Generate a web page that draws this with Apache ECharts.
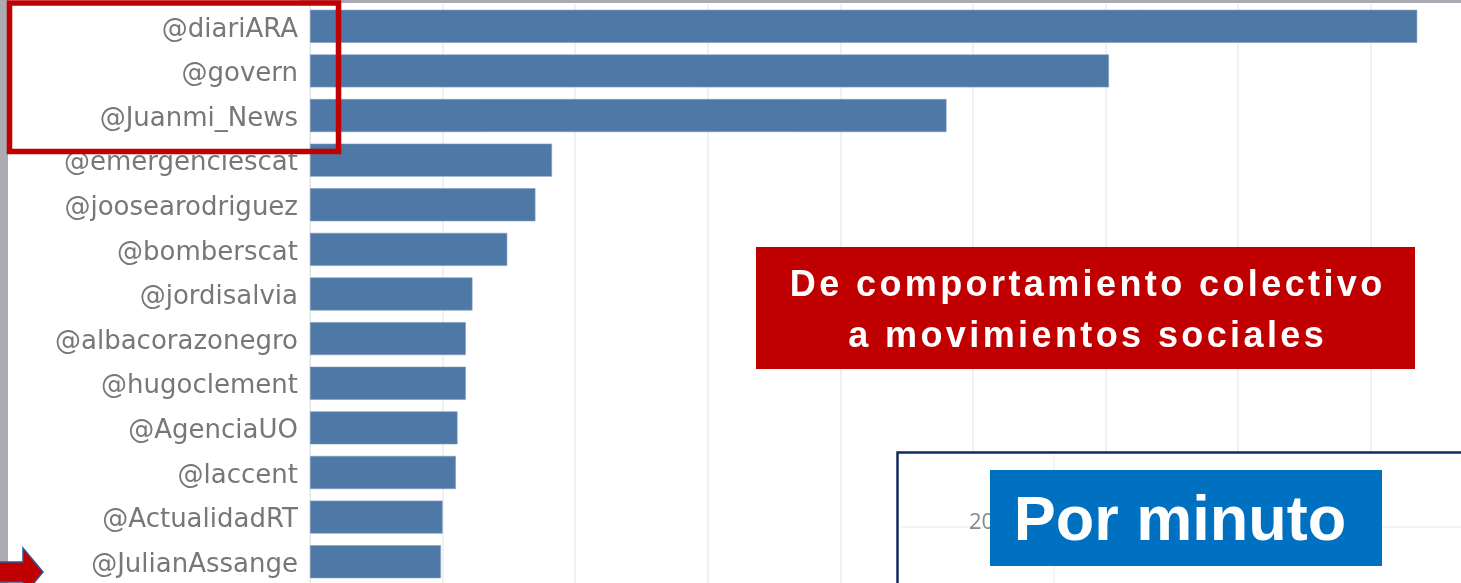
<!DOCTYPE html>
<html>
<head>
<meta charset="utf-8">
<script src="https://cdn.jsdelivr.net/npm/echarts@6/dist/echarts.min.js"></script>
<style>
html,body{margin:0;padding:0;background:#fff;}
#c{width:1461px;height:583px;}
</style>
</head>
<body>
<div id="c"></div>
<script>
var categories = ['@diariARA','@govern','@Juanmi_News','@emergenciescat','@joosearodriguez','@bomberscat','@jordisalvia','@albacorazonegro','@hugoclement','@AgenciaUO','@laccent','@ActualidadRT','@JulianAssange'];
var values = [33.4, 24.1, 19.2, 7.3, 6.8, 5.95, 4.9, 4.7, 4.7, 4.45, 4.4, 4.0, 3.95];
var bannerLines = ['De comportamiento colectivo', 'a movimientos sociales'];
var insetTick = '20';
var badgeText = 'Por minuto';

// letter-spaced text helper (decorative overlay text)
var mctx = document.createElement('canvas').getContext('2d');
function spacedText(str, cx, cy, font, spacing, color, z) {
  mctx.font = font;
  var widths = [], total = 0;
  for (var i = 0; i < str.length; i++) {
    var w = mctx.measureText(str[i]).width;
    widths.push(w); total += w;
  }
  total += spacing * (str.length - 1);
  var x = cx - total / 2, out = [];
  for (var j = 0; j < str.length; j++) {
    if (str[j] !== ' ') {
      out.push({type: 'text', x: x, y: cy, z: z,
        style: {text: str[j], fill: color, font: font, align: 'left', verticalAlign: 'middle'}});
    }
    x += widths[j] + spacing;
  }
  return out;
}

var graphics = [
  {type: 'rect', shape: {x: 300, y: 0, width: 1161, height: 3}, style: {fill: '#acabb3'}, z: 100},
  {type: 'rect', shape: {x: 0, y: 0, width: 8, height: 583}, style: {fill: '#acabb3'}, z: 100},
  {type: 'rect', shape: {x: 9.5, y: 3, width: 329, height: 148.5}, style: {fill: 'none', stroke: '#c00000', lineWidth: 5.5}, z: 100},
  {type: 'rect', shape: {x: 756, y: 247, width: 659, height: 122}, style: {fill: '#c00000'}, z: 100},
  {type: 'rect', shape: {x: 897.5, y: 452.5, width: 600, height: 200}, style: {fill: '#ffffff', stroke: '#0f2a62', lineWidth: 2.5}, z: 100},
  {type: 'line', shape: {x1: 1054, y1: 455, x2: 1054, y2: 583}, style: {stroke: '#f0f0f0', lineWidth: 1.5}, z: 101},
  {type: 'line', shape: {x1: 900, y1: 527, x2: 1461, y2: 527}, style: {stroke: '#f0f0f0', lineWidth: 1.5}, z: 101},
  {type: 'text', x: 969, y: 523, style: {text: insetTick, fill: '#888888', font: '22px "Open Sans"', align: 'left', verticalAlign: 'middle'}, z: 101},
  {type: 'rect', shape: {x: 990, y: 470, width: 392, height: 96}, style: {fill: '#0070c0'}, z: 102},
  {type: 'text', x: 1180, y: 523, style: {text: badgeText, fill: '#ffffff', font: 'bold 63px "Liberation Sans"', align: 'center', verticalAlign: 'middle'}, z: 103},
  {type: 'polygon', shape: {points: [[-2, 562], [23, 562], [23, 548], [43, 572], [23, 596], [23, 582], [-2, 582]]}, style: {fill: '#c00000', stroke: '#2f5597', lineWidth: 1.5}, z: 104}
];
graphics = graphics.concat(spacedText(bannerLines[0], 1086, 286, 'bold 36px "Liberation Sans"', 3.4, '#ffffff', 101));
graphics = graphics.concat(spacedText(bannerLines[1], 1086, 337, 'bold 36px "Liberation Sans"', 3.4, '#ffffff', 101));

var chart = echarts.init(document.getElementById('c'), null, {renderer: 'canvas'});
chart.setOption({
  animation: false,
  backgroundColor: '#ffffff',
  grid: {left: 310, top: 4, width: 1193.4, height: 580, containLabel: false, outerBoundsMode: 'none'},
  xAxis: {
    type: 'value', min: 0, max: 36, interval: 4,
    axisLabel: {show: false}, axisTick: {show: false}, axisLine: {show: false},
    splitLine: {show: true, lineStyle: {color: '#ececec', width: 1.5}}
  },
  yAxis: {
    type: 'category', data: categories, inverse: true,
    axisTick: {show: false},
    axisLine: {show: true, lineStyle: {color: '#e4e4e4', width: 1}},
    axisLabel: {color: '#777777', fontSize: 26, fontFamily: 'DejaVu Sans', margin: 12, verticalAlign: 'top', lineHeight: 7}
  },
  series: [{
    type: 'bar', data: values, barWidth: 33,
    itemStyle: {color: '#4e79a7', borderColor: '#7d9cc0', borderWidth: 0.6}
  }],
  graphic: graphics
});
</script>
</body>
</html>
